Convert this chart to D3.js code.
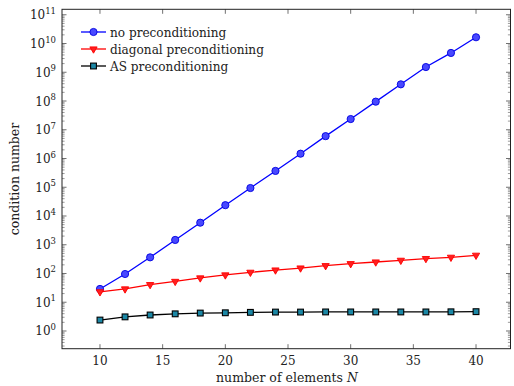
<!DOCTYPE html>
<html>
<head>
<meta charset="utf-8">
<script src="https://cdn.jsdelivr.net/npm/d3@7"></script>
<style>
  html, body { margin: 0; padding: 0; background: #fff; }
  svg { display: block; }
</style>
</head>
<body>
<svg id="chart" width="514" height="386"></svg>
<script>
// Number of elements N
const elements = [10, 12, 14, 16, 18, 20, 22, 24, 26, 28, 30, 32, 34, 36, 38, 40];
// Condition numbers per preconditioner
const noPrecond = [29, 96, 365, 1470, 5850, 2.38e4, 9.4e4, 3.7e5, 1.47e6, 6.0e6, 2.36e7, 9.5e7, 3.8e8, 1.52e9, 4.7e9, 1.65e10];
const diagPrecond = [23, 29, 41, 53, 70, 89, 110, 132, 155, 187, 219, 251, 287, 330, 366, 430];
const asPrecond = [2.4, 3.1, 3.6, 3.95, 4.2, 4.3, 4.45, 4.55, 4.55, 4.6, 4.6, 4.6, 4.6, 4.6, 4.65, 4.7];

const xTicks = [10, 15, 20, 25, 30, 35, 40];
const yTickExps = [0, 1, 2, 3, 4, 5, 6, 7, 8, 9, 10, 11];
const legendLabels = ["no preconditioning", "diagonal preconditioning", "AS preconditioning"];

const FONT = "DejaVu Serif";
const TEXT_COLOR = "#222";

const svg = d3.select("#chart");
const frame = { left: 62, right: 510.5, top: 9.3, bottom: 348.7 };

const x = d3.scaleLinear().domain([6.97, 42.75]).range([frame.left, frame.right]);
const y = d3.scaleLog().domain([Math.pow(10, -0.616), Math.pow(10, 11.19)]).range([frame.bottom, frame.top]);

function label(sel) {
  return sel.style("font-family", FONT).attr("fill", TEXT_COLOR);
}

const axisColor = "#333";

// Minor log ticks (2..9 per decade), inward on left and right
const minor = [];
for (let e = -1; e <= 11; e++) {
  for (let m = 2; m <= 9; m++) {
    const v = m * Math.pow(10, e);
    if (y(v) <= frame.bottom && y(v) >= frame.top) minor.push(v);
  }
}
const major = yTickExps.map(e => Math.pow(10, e));

const ticksG = svg.append("g");
[frame.left, frame.right].forEach((px, i) => {
  const dir = i === 0 ? 1 : -1;
  ticksG.selectAll(null).data(minor).enter().append("line")
    .attr("x1", px).attr("x2", px + dir * 2.6)
    .attr("y1", d => y(d)).attr("y2", d => y(d))
    .attr("stroke", "#555").attr("stroke-width", 0.6);
  ticksG.selectAll(null).data(major).enter().append("line")
    .attr("x1", px).attr("x2", px + dir * 4.5)
    .attr("y1", d => y(d)).attr("y2", d => y(d))
    .attr("stroke", axisColor).attr("stroke-width", 0.7);
});
[frame.bottom, frame.top].forEach((py, i) => {
  const dir = i === 0 ? -1 : 1;
  ticksG.selectAll(null).data(xTicks).enter().append("line")
    .attr("x1", d => x(d)).attr("x2", d => x(d))
    .attr("y1", py).attr("y2", py + dir * 4.5)
    .attr("stroke", axisColor).attr("stroke-width", 0.7);
});

// Frame
svg.append("rect")
  .attr("x", frame.left).attr("y", frame.top)
  .attr("width", frame.right - frame.left).attr("height", frame.bottom - frame.top)
  .attr("fill", "none").attr("stroke", "#222").attr("stroke-width", 1);

// X tick labels
label(svg.append("g").selectAll("text").data(xTicks).enter().append("text"))
  .attr("x", d => x(d)).attr("y", frame.bottom + 16)
  .attr("text-anchor", "middle").attr("font-size", 12)
  .text(d => d);

// Y tick labels as 10^k
const yl = label(svg.append("g").selectAll("text").data(yTickExps).enter().append("text"))
  .attr("x", 56).attr("y", d => y(Math.pow(10, d)) + 4.5)
  .attr("text-anchor", "end").attr("font-size", 12);
yl.append("tspan").text("10");
yl.append("tspan").attr("dy", -5.5).attr("font-size", 8.5).text(d => d);

// Axis titles
const xt = label(svg.append("text"))
  .attr("x", 287).attr("y", 382)
  .attr("text-anchor", "middle").attr("font-size", 12.5);
xt.append("tspan").text("number of elements ");
xt.append("tspan").attr("font-style", "italic").text("N");

label(svg.append("text"))
  .attr("transform", `translate(19,179) rotate(-90)`)
  .attr("text-anchor", "middle").attr("font-size", 12.5)
  .text("condition number");

// Series
const series = [
  { values: noPrecond, line: "#0000ff", fill: "#4848ff", stroke: "#0000e0", mark: "circle" },
  { values: diagPrecond, line: "#ff0000", fill: "#ff2020", stroke: "#ff0000", mark: "triangle" },
  { values: asPrecond, line: "#000000", fill: "#1b87a5", stroke: "#000000", mark: "square" }
];

function drawMark(g, s, cx, cy) {
  if (s.mark === "circle") {
    g.append("circle").attr("cx", cx).attr("cy", cy).attr("r", 3.6)
      .attr("fill", s.fill).attr("stroke", s.stroke).attr("stroke-width", 0.9);
  } else if (s.mark === "triangle") {
    const r = 4.2;
    g.append("path")
      .attr("d", `M${cx - r * 0.866},${cy - r * 0.5} L${cx + r * 0.866},${cy - r * 0.5} L${cx},${cy + r} Z`)
      .attr("fill", s.fill).attr("stroke", s.stroke).attr("stroke-width", 0.9);
  } else {
    const h = 2.9;
    g.append("rect").attr("x", cx - h).attr("y", cy - h).attr("width", 2 * h).attr("height", 2 * h)
      .attr("fill", s.fill).attr("stroke", s.stroke).attr("stroke-width", 1.1);
  }
}

const line = d3.line().x(d => x(d[0])).y(d => y(d[1]));
series.forEach(s => {
  const pts = elements.map((n, i) => [n, s.values[i]]);
  const g = svg.append("g");
  g.append("path").attr("d", line(pts)).attr("fill", "none")
    .attr("stroke", s.line).attr("stroke-width", 1.3);
  pts.forEach(p => drawMark(g, s, x(p[0]), y(p[1])));
});

// Legend
const legendRows = [32, 49, 66];
series.forEach((s, i) => {
  const g = svg.append("g");
  const cy = legendRows[i];
  g.append("line").attr("x1", 81).attr("x2", 106).attr("y1", cy).attr("y2", cy)
    .attr("stroke", s.line).attr("stroke-width", 1.3);
  drawMark(g, s, 93.5, cy);
  label(g.append("text")).attr("x", 110).attr("y", cy + 4.5).attr("font-size", 12.1)
    .text(legendLabels[i]);
});
</script>
</body>
</html>
